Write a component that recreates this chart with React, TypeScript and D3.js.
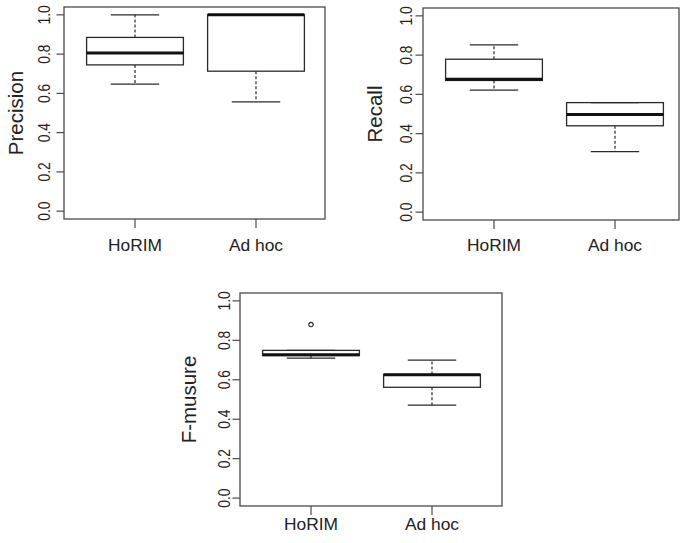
import React from "react";
import * as d3 from "d3";

const categories = ["HoRIM", "Ad hoc"];
const yTicks = [0, 0.2, 0.4, 0.6, 0.8, 1.0];

// [lower whisker, Q1, median, Q3, upper whisker]
const precisionStats = [
  [0.647, 0.745, 0.806, 0.885, 1.0],
  [0.557, 0.713, 1.0, 1.0, 1.0],
];
const recallStats = [
  [0.622, 0.671, 0.677, 0.779, 0.852],
  [0.308, 0.44, 0.498, 0.558, 0.558],
];
const fmeasureStats = [
  [0.71, 0.723, 0.727, 0.749, 0.749],
  [0.471, 0.562, 0.625, 0.627, 0.7],
];
const precisionOutliers: number[][] = [[], []];
const recallOutliers: number[][] = [[], []];
const fmeasureOutliers: number[][] = [[0.88], []];

type PanelProps = {
  title: string;
  stats: number[][];
  outliers: number[][];
  frame: [number, number, number, number]; // left, top, right, bottom
  xTickPos: [number, number];
  yLabelX: number;
  titleX: number;
  xLabelY: number;
};

const FONT = "'Liberation Sans', Arial, sans-serif";
const BOX = "#2a2a2a";
const FRAME = "#4a4a4a";
const TEXT = "#222";

function Panel(p: PanelProps) {
  const [L, T, R, B] = p.frame;
  const y = d3.scaleLinear().domain([-0.04, 1.04]).range([B, T]);
  const x = d3.scaleLinear().domain([1, 2]).range(p.xTickPos);
  const unit = p.xTickPos[1] - p.xTickPos[0];
  const halfBox = 0.4 * unit;
  const halfStaple = 0.2 * unit;
  return (
    <g>
      <rect x={L} y={T} width={R - L} height={B - T} fill="none" stroke={FRAME} strokeWidth={1.3} />
      {yTicks.map((t) => (
        <g key={t}>
          <line x1={L - 7.5} x2={L} y1={y(t)} y2={y(t)} stroke={FRAME} strokeWidth={1.2} />
          <text
            transform={`translate(${p.yLabelX},${y(t)}) scale(1.25,1) rotate(-90)`}
            textAnchor="middle"
            fontFamily={FONT}
            fontSize={13.8}
            fill={TEXT}
          >
            {t.toFixed(1)}
          </text>
        </g>
      ))}
      {categories.map((c, i) => (
        <g key={c}>
          <line x1={x(i + 1)} x2={x(i + 1)} y1={B} y2={B + 9} stroke={FRAME} strokeWidth={1.2} />
          <text
            transform={`translate(${x(i + 1)},${p.xLabelY}) scale(1.1,1)`}
            textAnchor="middle"
            fontFamily={FONT}
            fontSize={15.8}
            fill={TEXT}
          >
            {c}
          </text>
        </g>
      ))}
      <text
        transform={`translate(${p.titleX},${(T + B) / 2}) rotate(-90)`}
        textAnchor="middle"
        fontFamily={FONT}
        fontSize={20.5}
        fill={TEXT}
      >
        {p.title}
      </text>
      {p.stats.map((s, i) => {
        const cx = x(i + 1);
        const [lo, q1, med, q3, hi] = s;
        return (
          <g key={i}>
            {hi > q3 && (
              <line x1={cx} x2={cx} y1={y(q3)} y2={y(hi)} stroke={BOX} strokeWidth={1.2} strokeDasharray="3,2" />
            )}
            <line x1={cx - halfStaple} x2={cx + halfStaple} y1={y(hi)} y2={y(hi)} stroke={BOX} strokeWidth={1.3} />
            {lo < q1 && (
              <line x1={cx} x2={cx} y1={y(q1)} y2={y(lo)} stroke={BOX} strokeWidth={1.2} strokeDasharray="3,2" />
            )}
            <line x1={cx - halfStaple} x2={cx + halfStaple} y1={y(lo)} y2={y(lo)} stroke={BOX} strokeWidth={1.3} />
            <rect
              x={cx - halfBox}
              y={y(q3)}
              width={2 * halfBox}
              height={Math.max(0, y(q1) - y(q3))}
              fill="none"
              stroke={BOX}
              strokeWidth={1.3}
            />
            <line x1={cx - halfBox} x2={cx + halfBox} y1={y(med)} y2={y(med)} stroke="#111" strokeWidth={3} />
            {p.outliers[i].map((o, j) => (
              <circle key={j} cx={cx} cy={y(o)} r={2.2} fill="none" stroke={BOX} strokeWidth={1.1} />
            ))}
          </g>
        );
      })}
    </g>
  );
}

export default function App() {
  return (
    <svg
      width={680}
      height={543}
      style={{ position: "absolute", left: 0, top: 0, background: "#fff" }}
    >
      <rect x={0} y={0} width={680} height={543} fill="#fff" />
      <Panel
        title="Precision"
        stats={precisionStats}
        outliers={precisionOutliers}
        frame={[64, 7, 325, 219]}
        xTickPos={[135, 256]}
        yLabelX={50}
        titleX={23}
        xLabelY={251}
      />
      <Panel
        title="Recall"
        stats={recallStats}
        outliers={recallOutliers}
        frame={[423, 8, 679, 220]}
        xTickPos={[494, 615]}
        yLabelX={411.5}
        titleX={382}
        xLabelY={251}
      />
      <Panel
        title="F-musure"
        stats={fmeasureStats}
        outliers={fmeasureOutliers}
        frame={[240, 293, 502, 506]}
        xTickPos={[311, 432]}
        yLabelX={229.5}
        titleX={196}
        xLabelY={530}
      />
    </svg>
  );
}
